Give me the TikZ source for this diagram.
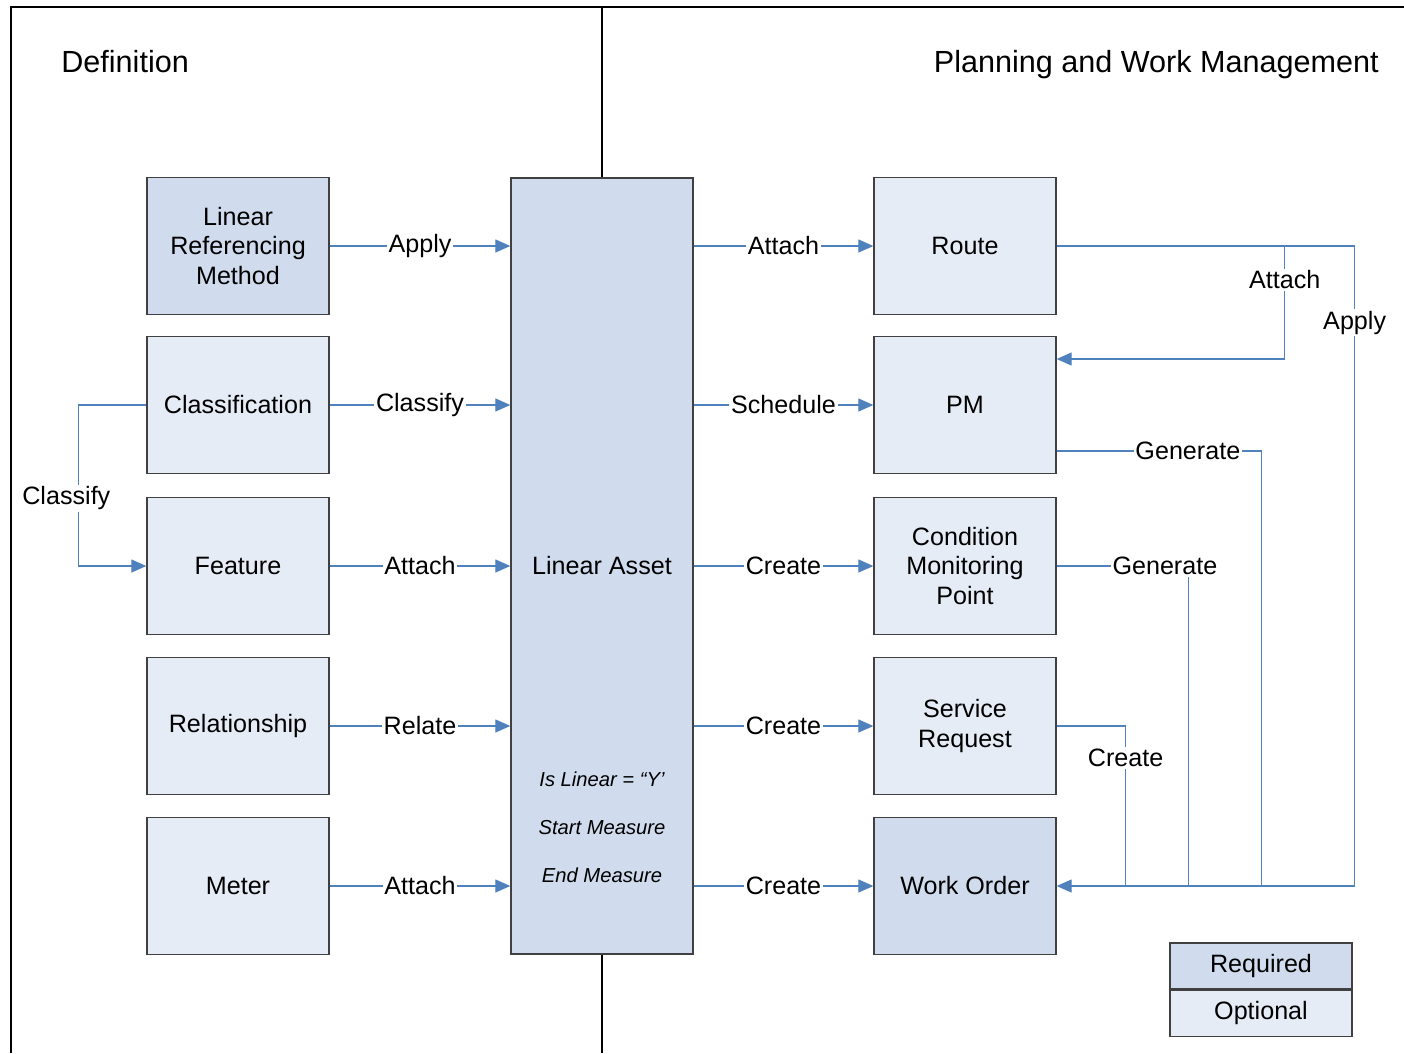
\documentclass[tikz,border=0pt]{standalone}
\usepackage{fontspec}
\setmainfont{Liberation Sans}
\usepackage{xcolor}
\usepackage{tikz}
\usetikzlibrary{arrows.meta}
\definecolor{requiredblue}{RGB}{208, 220, 237}
\definecolor{optionalblue}{RGB}{230, 236, 246}
\definecolor{linkblue}{RGB}{79, 129, 189}
\definecolor{boxgray}{RGB}{64, 64, 64}

\begin{document}
\begin{tikzpicture}[x=0.2mm, y=-0.2mm,
        required/.style = {draw=boxgray, fill=requiredblue, line width=0.75pt, minimum width=36.4mm, minimum height=27.4mm, align=center, font=\fontsize{14.3}{17}\selectfont},
        optional/.style = {required, fill=optionalblue},
            link/.style = {draw=linkblue, line width=0.7pt},
           arrow/.style = {link, -{Triangle[length=3mm, width=2.6mm]}},
             lbl/.style = {fill=white, inner sep=1pt, font=\fontsize{14.3}{17}\selectfont},
            note/.style = {font=\fontsize{11.5}{14}\selectfont\itshape},
           title/.style = {inner sep=0pt, font=\fontsize{17.4}{20}\selectfont}]
    \useasboundingbox (0,0) rectangle (1404,1053);

    \node[title, anchor=base west] (defn) at (61,72) {Definition};
    \node[title, anchor=base east] (plan) at (1379,72) {Planning and Work Management};

    \node[required] (lrm)   at (238,246) {Linear\\Referencing\\Method};
    \node[optional] (class) at (238,405) {Classification};
    \node[optional] (feat)  at (238,566) {Feature};
    \node[optional] (rel)   at (238,726) {Relationship};
    \node[optional] (meter) at (238,886) {Meter};

    \node[required, minimum height=155.2mm] (asset) at (602,566) {Linear Asset};
    \node[note] (islinear) at (602,779) {Is Linear = “Y’};
    \node[note] (startm)   at (602,828) {Start Measure};
    \node[note] (endm)     at (602,875) {End Measure};

    \node[optional] (route) at (965,246) {Route};
    \node[optional] (pm)    at (965,405) {PM};
    \node[optional] (cmp)   at (965,566) {Condition\\Monitoring\\Point};
    \node[optional] (sr)    at (965,726) {Service\\Request};
    \node[required] (wo)    at (965,886) {Work Order};

    \node[required, minimum height=9.2mm] (req) at (1261,966) {Required};
    \node[optional, minimum height=9.2mm, anchor=north] (opt) at (req.south) {Optional};

    \draw[line width=0.8pt] (11,1053) -- (11,7) -- (1404,7);
    \draw[line width=0.8pt] (602,7) -- (asset.north);
    \draw[line width=0.8pt] (asset.south) -- (602,1053);

    \draw[arrow] (lrm.east)   -- node[lbl]{Apply}    (lrm -| asset.west);
    \draw[arrow] (class.east) -- node[lbl]{Classify} (class -| asset.west);
    \draw[arrow] (feat.east)  -- node[lbl]{Attach}   (feat -| asset.west);
    \draw[arrow] (rel.east)   -- node[lbl]{Relate}   (rel -| asset.west);
    \draw[arrow] (meter.east) -- node[lbl]{Attach}   (meter -| asset.west);

    \draw[arrow] (route -| asset.east) -- node[lbl]{Attach}   (route.west);
    \draw[arrow] (pm -| asset.east)    -- node[lbl]{Schedule} (pm.west);
    \draw[arrow] (cmp -| asset.east)   -- node[lbl]{Create}   (cmp.west);
    \draw[arrow] (sr -| asset.east)    -- node[lbl]{Create}   (sr.west);
    \draw[arrow] (wo -| asset.east)    -- node[lbl]{Create}   (wo.west);

    \coordinate (classify corner) at ([xshift=-13.6mm]feat.west);
    \draw[arrow] (class.west) -| node[lbl, pos=0.79, xshift=-2.4mm]{Classify} (classify corner) -- (feat.west);

    \coordinate (pm in)  at ([yshift=9.2mm]pm.east);
    \coordinate (pm out) at ([yshift=-9.2mm]pm.east);
    \coordinate (attach corner) at ([xshift=45.6mm]pm in);
    \coordinate (apply corner)  at ([xshift=59.6mm]wo.east);
    \coordinate (gen pm)    at ([xshift=41mm]wo.east);
    \coordinate (gen cmp)   at ([xshift=26.4mm]wo.east);
    \coordinate (create sr) at ([xshift=13.8mm]wo.east);

    \draw[arrow] (route.east) -| node[lbl, pos=0.56]{Apply} (apply corner) -- (wo.east);
    \draw[arrow] (route.east) -| node[lbl, pos=0.65]{Attach} (attach corner) -- (pm in);
    \draw[link] (pm out) -| node[lbl, pos=0.32]{Generate} (gen pm);
    \draw[link] (cmp.east) -| node[lbl, pos=0.41]{Generate} (gen cmp);
    \draw[link] (sr.east) -| node[lbl, pos=0.6]{Create} (create sr);
\end{tikzpicture}
\end{document}
